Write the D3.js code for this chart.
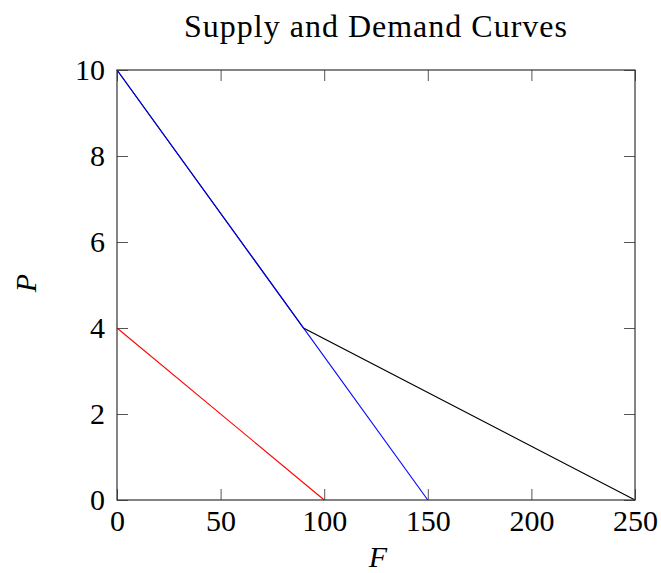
<!DOCTYPE html>
<html>
<head>
<meta charset="utf-8">
<script src="https://cdn.jsdelivr.net/npm/d3@7"></script>
<style>
  body { margin: 0; background: #fff; }
  text { font-family: "Liberation Serif", "DejaVu Serif", serif; fill: #000; }
</style>
</head>
<body>
<script>
// curves as (F, P) points
var demandPoints = [[0, 10], [150, 0]];
var kinkedPoints = [[0, 10], [90, 4], [250, 0]];
var supplyPoints = [[0, 4], [100, 0]];

var xTicks = [0, 50, 100, 150, 200, 250];
var yTicks = [0, 2, 4, 6, 8, 10];

var W = 661, H = 573;
var margin = {top: 70, right: 26, bottom: 73, left: 117};
var width = W - margin.left - margin.right,
    height = H - margin.top - margin.bottom;

var x = d3.scaleLinear().domain([0, 250]).range([0, width]);
var y = d3.scaleLinear().domain([0, 10]).range([height, 0]);

var svg = d3.select("body").append("svg")
    .attr("width", W)
    .attr("height", H);

var g = svg.append("g")
    .attr("transform", "translate(" + margin.left + "," + margin.top + ")");

var tickLen = 11;
var fontSize = 30;

// bottom axis: labels, inward ticks
var xAxis = g.append("g")
    .attr("transform", "translate(0," + height + ")")
    .call(d3.axisBottom(x).tickValues(xTicks).tickSize(-tickLen).tickPadding(10));
// top mirror ticks
g.append("g")
    .call(d3.axisTop(x).tickValues(xTicks).tickSize(-tickLen).tickFormat(""));

var yAxis = g.append("g")
    .call(d3.axisLeft(y).tickValues(yTicks).tickSize(-tickLen).tickPadding(12));
g.append("g")
    .attr("transform", "translate(" + width + ",0)")
    .call(d3.axisRight(y).tickValues(yTicks).tickSize(-tickLen).tickFormat(""));

g.selectAll(".domain").remove();
g.selectAll(".tick line").attr("stroke", "#555").attr("stroke-width", 1);
g.selectAll(".tick text")
    .style("font-family", "'Liberation Serif', serif")
    .style("font-size", fontSize + "px")
    .attr("fill", "#000");
yAxis.selectAll(".tick text").attr("dy", "0.33em");

var line = d3.line()
    .x(d => x(d[0]))
    .y(d => y(d[1]));

g.append("path").datum(supplyPoints)
    .attr("d", line).attr("fill", "none").attr("stroke", "#ff0000").attr("stroke-width", 1.1);
g.append("path").datum(kinkedPoints)
    .attr("d", line).attr("fill", "none").attr("stroke", "#000").attr("stroke-width", 1.1);
g.append("path").datum(demandPoints)
    .attr("d", line).attr("fill", "none").attr("stroke", "#0000ff").attr("stroke-width", 1.1);

// frame
g.append("rect")
    .attr("x", 0).attr("y", 0)
    .attr("width", width).attr("height", height)
    .attr("fill", "none").attr("stroke", "#333").attr("stroke-width", 1.2);

svg.append("text")
    .attr("x", margin.left + width / 2)
    .attr("y", 37)
    .attr("text-anchor", "middle")
    .style("font-size", "32px")
    .style("letter-spacing", "1px")
    .text("Supply and Demand Curves");

svg.append("text")
    .attr("x", margin.left + width / 2 + 2)
    .attr("y", 567)
    .attr("text-anchor", "middle")
    .style("font-size", fontSize + "px")
    .style("font-style", "italic")
    .text("F");

svg.append("text")
    .attr("transform", "translate(36," + (margin.top + height / 2 - 2) + ") rotate(-90)")
    .attr("text-anchor", "middle")
    .style("font-size", fontSize + "px")
    .style("font-style", "italic")
    .text("P");
</script>
</body>
</html>
